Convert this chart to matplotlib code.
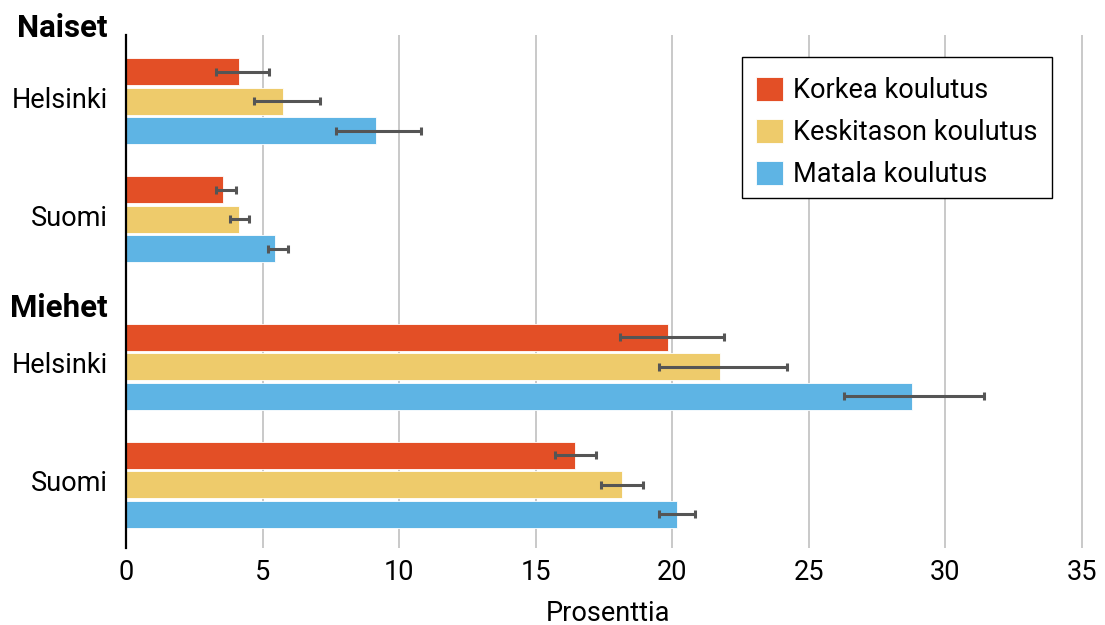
import matplotlib
matplotlib.use("Agg")
import matplotlib.pyplot as plt
from matplotlib.patches import Rectangle
from matplotlib.transforms import ScaledTranslation
import numpy as np

plt.rcParams['font.family'] = ['Roboto', 'DejaVu Sans']

groups = ["Helsinki", "Suomi", "Helsinki", "Suomi"]
headers = ["Naiset", "Miehet"]
series = ["Korkea koulutus", "Keskitason koulutus", "Matala koulutus"]
colors = ["#E34F26", "#EECB6B", "#5EB4E4"]

# values per series, groups: Naiset Helsinki, Naiset Suomi, Miehet Helsinki, Miehet Suomi
korkea = [4.14, 3.55, 19.86, 16.45]
korkea_lo = [3.30, 3.29, 18.10, 15.71]
korkea_hi = [5.22, 4.01, 21.91, 17.21]

keski = [5.76, 4.14, 21.76, 18.16]
keski_lo = [4.69, 3.79, 19.51, 17.40]
keski_hi = [7.11, 4.52, 24.22, 18.92]

matala = [9.15, 5.45, 28.77, 20.16]
matala_lo = [7.70, 5.19, 26.30, 19.51]
matala_hi = [10.82, 5.92, 31.43, 20.82]

vals = [korkea, keski, matala]
los = [korkea_lo, keski_lo, matala_lo]
his = [korkea_hi, keski_hi, matala_hi]

centers = np.array([0, 4, 9, 13], dtype=float)
header_y = [-2.47, 7.0]

FS = 19.5

fig = plt.figure(figsize=(11.05, 6.25), dpi=100)
ax = fig.add_axes([126/1105, 77/625, 964/1105, 513/625])

for i, (v, lo, hi, c, name) in enumerate(zip(vals, los, his, colors, series)):
    y = centers + (i - 1)
    v = np.array(v); lo = np.array(lo); hi = np.array(hi)
    ax.barh(y, v, height=0.92, color=c, edgecolor='white', linewidth=0.6, label=name, zorder=2)
    ax.errorbar(v, y, xerr=[v - lo, hi - v], fmt='none', ecolor='#555555',
                elinewidth=2.2, capsize=2.7, capthick=2.2, zorder=3)

ax.set_xlim(0, 35.3)
ax.set_ylim(15.15, -2.24)
ax.set_xticks(np.arange(0, 36, 5))
ax.set_yticks(centers)
ax.set_yticklabels(groups)
ax.tick_params(axis='both', length=0, labelsize=FS)
ax.tick_params(axis='y', pad=13)
ax.tick_params(axis='x', pad=8)
for lab in ax.get_yticklabels():
    lab.set_transform(lab.get_transform() + ScaledTranslation(0, 4/100, fig.dpi_scale_trans))
ax.grid(axis='x', color='#BBBBBB', linewidth=1.1, zorder=0)
ax.set_axisbelow(True)
for s in ['top', 'right', 'bottom']:
    ax.spines[s].set_visible(False)
ax.spines['left'].set_linewidth(1.6)
ax.spines['left'].set_color('black')
ax.spines['left'].set_zorder(4)

for h, hy in zip(headers, header_y):
    ax.annotate(h, xy=(0, hy), xycoords=('axes fraction', 'data'), xytext=(-13, 0),
                textcoords='offset points', ha='right', va='center', fontsize=22.5,
                fontweight='bold', annotation_clip=False)

ax.set_xlabel("Prosenttia", fontsize=FS, labelpad=10)

# legend frame box
frame = Rectangle((0.639, 0.682), 0.3216, 0.275, transform=ax.transAxes,
                  facecolor='white', edgecolor='black', linewidth=1.0, zorder=4.5)
ax.add_patch(frame)

leg = ax.legend(loc='upper right', bbox_to_anchor=(0.9606, 0.947), fontsize=FS,
                frameon=False, handlelength=1.0, handleheight=1.0, labelspacing=0.53,
                handletextpad=0.37, borderpad=0.55, borderaxespad=0)
leg.set_zorder(5)

fig.savefig("out.png", dpi=100)
